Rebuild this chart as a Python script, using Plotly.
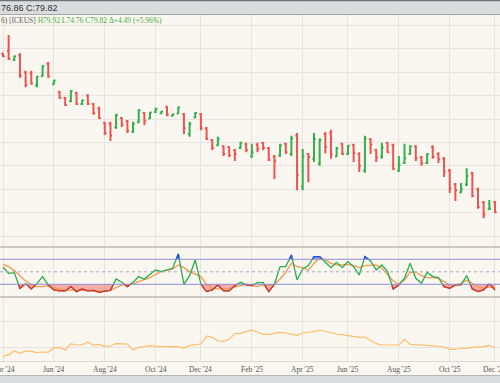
import plotly.graph_objects as go

# ---------------- data ----------------
bar_idx = list(range(88))  # weekly bars, Apr 2024 .. Dec 2025
tick_idx = [0, 9, 18, 27, 35, 44, 53, 61, 70, 79, 87]
tick_labels = ["Apr '24", "Jun '24", "Aug '24", "Oct '24", "Dec '24", "Feb '25",
               "Apr '25", "Jun '25", "Aug '25", "Oct '25", "Dec '25"]

opens = [109.0, 109.5, 107.6, 108.5, 105.0, 104.8, 102.2, 104.2, 106.8, 102.4,
         100.8, 99.5, 98.8, 100.5, 98.2, 100.0, 98.2, 97.3, 94.2, 94.0,
         93.2, 95.2, 94.5, 92.3, 94.3, 96.3, 95.1, 96.5, 96.2, 97.6,
         95.7, 96.2, 96.0, 91.8, 95.3, 96.0, 93.0, 90.5, 89.4, 89.2,
         89.0, 88.4, 88.8, 89.6, 87.0, 89.5, 89.9, 88.8, 87.0, 87.2,
         89.7, 87.5, 91.5, 80.5, 87.5, 86.5, 85.5, 91.8, 92.0, 87.0,
         89.7, 87.5, 89.5, 87.5, 84.0, 90.7, 88.4, 87.0, 89.9, 89.5,
         84.0, 85.6, 87.5, 89.2, 86.8, 85.6, 89.0, 87.6, 86.5, 84.0,
         81.0, 79.3, 81.0, 83.4, 80.0, 77.2, 75.7, 77.2]
highs = [109.1, 112.95, 108.5, 109.1, 105.3, 105.3, 104.2, 106.5, 107.2, 103.3,
         101.0, 99.7, 101.2, 100.8, 99.1, 100.3, 98.4, 97.6, 94.4, 94.4,
         96.1, 95.4, 94.8, 94.4, 97.1, 96.5, 96.5, 97.4, 96.7, 97.8,
         96.1, 97.6, 96.3, 94.4, 96.5, 96.3, 93.3, 90.7, 91.2, 89.4,
         89.2, 88.6, 90.1, 89.9, 89.7, 89.9, 90.1, 89.0, 87.3, 89.7,
         89.9, 91.4, 92.0, 88.6, 87.7, 92.0, 90.9, 92.2, 92.7, 89.0,
         89.9, 89.4, 89.7, 87.9, 91.4, 90.9, 88.6, 89.9, 90.1, 89.7,
         87.1, 89.7, 89.4, 89.4, 87.1, 87.7, 89.4, 87.9, 86.9, 84.3,
         81.3, 81.3, 84.5, 83.7, 80.3, 77.5, 77.7, 77.5]
lows = [108.25, 107.6, 107.4, 103.8, 101.8, 102.3, 101.8, 104.0, 103.8, 102.3,
        99.3, 97.8, 98.6, 98.0, 98.0, 98.0, 95.9, 95.0, 91.6, 90.3,
        92.9, 93.3, 92.0, 92.0, 94.1, 93.7, 95.0, 96.3, 96.1, 95.6,
        95.6, 96.1, 91.8, 91.2, 95.2, 92.6, 90.5, 88.4, 89.2, 87.1,
        86.9, 86.0, 88.6, 87.9, 86.7, 87.9, 88.4, 86.0, 82.2, 86.9,
        87.5, 87.1, 79.8, 79.8, 81.5, 85.8, 85.0, 87.7, 86.5, 86.9,
        87.3, 87.3, 85.8, 83.7, 83.5, 87.5, 85.8, 86.5, 87.7, 84.1,
        83.7, 85.4, 87.3, 86.0, 85.0, 85.4, 86.5, 85.6, 82.6, 79.2,
        77.5, 79.2, 80.7, 78.3, 75.8, 73.8, 75.6, 74.9]
closes = [108.4, 107.8, 108.4, 104.2, 102.2, 102.6, 104.0, 106.3, 104.0, 103.2,
          99.5, 98.0, 101.0, 98.2, 99.0, 98.2, 96.2, 95.2, 92.0, 91.5,
          95.8, 93.8, 92.5, 94.0, 96.9, 94.5, 96.4, 97.2, 96.6, 95.9,
          96.0, 97.5, 93.0, 94.0, 96.3, 93.0, 90.8, 88.8, 90.8, 87.5,
          87.2, 87.6, 89.9, 88.4, 87.9, 88.6, 88.8, 86.3, 86.0, 89.4,
          87.9, 90.9, 83.0, 87.0, 86.9, 90.7, 90.5, 89.0, 87.4, 88.8,
          87.5, 89.3, 87.8, 85.0, 90.8, 89.5, 86.8, 88.9, 87.9, 84.3,
          85.2, 86.6, 89.2, 86.6, 85.5, 87.5, 86.9, 86.4, 83.8, 80.2,
          79.8, 80.0, 82.8, 78.6, 76.2, 74.6, 75.9, 75.1]

stoch_k = [60.8, 46.4, 48, 10.4, 21.6, 8.8, 21.6, 38.4, 18.4, 6.4,
           4, 4, 14.4, 2.4, 8.8, 4, 5.6, 0.8, 4, 5.6,
           32.8, 24.8, 14.4, 24.8, 38.4, 32, 44, 54.4, 50.4, 55.2,
           58.4, 92.8, 20, 40.8, 78.4, 20, 2.4, 6.4, 18.4, 4,
           4, 16.8, 24.8, 18.4, 16.8, 24, 24, 2.4, 20, 62.4,
           62.4, 90.4, 30.4, 56.8, 64.8, 86.4, 86.4, 72.8, 60, 72.8,
           60, 74.4, 62.4, 42.4, 86.4, 76, 54.4, 66.4, 50.4, 8.8,
           18.4, 34.4, 70.4, 34.4, 22.4, 48.8, 38.4, 36, 14.4, 10.4,
           18.4, 18.4, 40.8, 8.8, 2.4, 6.4, 21, 6.4]
stoch_d = [68, 62.4, 52.8, 40.8, 28, 20, 14.4, 14.4, 16.8, 12,
           8, 5.6, 6.4, 5.6, 4.8, 5.6, 4, 3.2, 3.2, 5.6,
           12, 18.4, 18.4, 20.8, 26.4, 31.2, 36, 44, 50.4, 53.6,
           56.8, 66.4, 60, 50.4, 44, 38.4, 20, 10.4, 8.8, 8.8,
           10.4, 13.6, 16.8, 20, 16.8, 14.4, 18.4, 16.8, 20, 32.8,
           48.8, 70.4, 62.4, 60, 53.6, 70.4, 82.4, 78.4, 70.4, 66.4,
           66.4, 68, 64.8, 60, 64.8, 64.8, 66.4, 58.4, 44, 28,
           20, 30.4, 48.8, 48.8, 40.8, 36, 36, 34.4, 26.4, 18.4,
           18.4, 22.4, 29.6, 22.4, 14.4, 10.4, 13.6, 12]
open_interest = [51, 56, 67, 60, 67, 66, 62, 64, 63, 77, 77, 70, 89, 85, 85, 94, 84, 87, 81, 82,
                 89, 89, 88, 70, 78, 80, 83, 81, 80, 80, 80, 80, 75, 84, 86, 88, 112, 108, 97, 96,
                 102, 119, 120, 125, 130, 124, 117, 117, 119, 123, 121, 118, 114, 121, 123, 125, 130, 126, 120, 118,
                 116, 113, 110, 108, 109, 100, 89, 85, 84, 85, 85, 102, 87, 85, 85, 84, 82, 81, 79, 72,
                 72, 76, 75, 78, 78, 80, 84, 76]

price_grid = [70, 75, 80, 85, 90, 95, 100, 105, 110, 115]
stoch_levels = [20, 50, 80]

# ---------------- helpers ----------------
H = 383.0
def fy(px):
    return 1 - px / H

def densify(xs, ys, thr):
    dx, dy = [], []
    for i in range(len(xs)):
        dx.append(xs[i]); dy.append(ys[i])
        if i + 1 < len(xs):
            y0, y1 = ys[i], ys[i + 1]
            if (y0 - thr) * (y1 - thr) < 0:
                t = (thr - y0) / (y1 - y0)
                dx.append(xs[i] + t * (xs[i + 1] - xs[i])); dy.append(thr)
    return dx, dy

BG = '#faf7f0'
GRID = '#e7e4dd'
RED = '#ef5350'
GREEN = '#31b14c'

fig = go.Figure()

# price bars
fig.add_trace(go.Ohlc(x=bar_idx, open=opens, high=highs, low=lows, close=closes,
                      increasing=dict(line=dict(color=GREEN, width=2)),
                      decreasing=dict(line=dict(color=RED, width=2)),
                      tickwidth=0.3, xaxis='x', yaxis='y', showlegend=False))

# stochastic fills / lines
lo_lvl, mid_lvl, hi_lvl = stoch_levels
xs_lo, ys_lo = densify(bar_idx, stoch_k, lo_lvl)
xs_hi, ys_hi = densify(bar_idx, stoch_k, hi_lvl)
clip_lo = [min(v, lo_lvl) for v in ys_lo]
clip_hi = [max(v, hi_lvl) for v in ys_hi]
fig.add_trace(go.Scatter(x=xs_lo + [xs_lo[-1], xs_lo[0]], y=clip_lo + [lo_lvl, lo_lvl], fill='toself',
                         fillcolor='rgba(240,80,80,0.45)', line=dict(width=0), mode='lines',
                         xaxis='x2', yaxis='y2', showlegend=False, hoverinfo='skip'))
fig.add_trace(go.Scatter(x=xs_hi + [xs_hi[-1], xs_hi[0]], y=clip_hi + [hi_lvl, hi_lvl], fill='toself',
                         fillcolor='rgba(60,90,240,0.5)', line=dict(width=0), mode='lines',
                         xaxis='x2', yaxis='y2', showlegend=False, hoverinfo='skip'))

fig.add_trace(go.Scatter(x=bar_idx, y=stoch_d, mode='lines', line=dict(color='#f39a52', width=1.3),
                         xaxis='x2', yaxis='y2', showlegend=False))
fig.add_trace(go.Scatter(x=bar_idx, y=stoch_k, mode='lines', line=dict(color='#27ae47', width=1.3),
                         xaxis='x2', yaxis='y2', showlegend=False))
fig.add_trace(go.Scatter(x=xs_lo, y=[v if v <= lo_lvl else None for v in ys_lo], mode='lines',
                         line=dict(color='#f2262e', width=1.3), connectgaps=False,
                         xaxis='x2', yaxis='y2', showlegend=False))
fig.add_trace(go.Scatter(x=xs_hi, y=[v if v >= hi_lvl else None for v in ys_hi], mode='lines',
                         line=dict(color='#2448f2', width=1.3), connectgaps=False,
                         xaxis='x2', yaxis='y2', showlegend=False))

# bottom panel line
fig.add_trace(go.Scatter(x=bar_idx, y=open_interest, mode='lines', line=dict(color='#ffbd6b', width=1.2),
                         xaxis='x3', yaxis='y3', showlegend=False))

xr = [-0.53, 87.89]
xcommon = dict(range=xr, tickvals=tick_idx, showgrid=True, gridcolor=GRID, gridwidth=1,
               zeroline=False, fixedrange=True, showticklabels=False, automargin=False)

fig.update_layout(
    width=500, height=383,
    margin=dict(l=0, r=0, t=0, b=0),
    paper_bgcolor=BG, plot_bgcolor=BG,
    showlegend=False,
    xaxis=dict(**xcommon, anchor='y', rangeslider=dict(visible=False)),
    xaxis2=dict(**xcommon, anchor='y2', matches='x'),
    xaxis3=dict(**xcommon, anchor='y3', matches='x',
                showline=True, linecolor='#dedad3', linewidth=1),
    yaxis=dict(domain=[fy(247), fy(15)], range=[67.65, 117.22], tickvals=price_grid,
               showticklabels=False, showgrid=True, gridcolor=GRID, zeroline=False, fixedrange=True),
    yaxis2=dict(domain=[fy(297), fy(247)], range=[-10.5, 109.5], showticklabels=False,
                showgrid=False, zeroline=False, fixedrange=True),
    yaxis3=dict(domain=[fy(361), fy(297)], range=[37, 229], tickvals=[79, 157],
                showticklabels=False, showgrid=True, gridcolor=GRID, zeroline=False, fixedrange=True),
)

shapes = []
# stochastic reference lines
for lvl in (hi_lvl, lo_lvl):
    shapes.append(dict(type='line', xref='paper', x0=0, x1=1, yref='y2', y0=lvl, y1=lvl,
                       line=dict(color='#8d8ed8', width=1)))
shapes.append(dict(type='line', xref='paper', x0=0, x1=1, yref='y2', y0=mid_lvl, y1=mid_lvl,
                   line=dict(color='#a9a8c8', width=1, dash='dot')))
# panel separators
for py in (247, 297):
    shapes.append(dict(type='line', xref='paper', x0=0, x1=1, yref='paper', y0=fy(py), y1=fy(py),
                       line=dict(color='#cdc9c2', width=2)))
# header bar
shapes.append(dict(type='rect', xref='paper', x0=-0.01, x1=1.01, yref='paper', y0=fy(14.5), y1=1.01,
                   fillcolor='#d9dde0', line=dict(width=0), layer='above'))
shapes.append(dict(type='line', xref='paper', x0=0, x1=1, yref='paper', y0=fy(0.5), y1=fy(0.5),
                   line=dict(color='#6f7275', width=1.5)))
shapes.append(dict(type='line', xref='paper', x0=0, x1=1, yref='paper', y0=fy(14.5), y1=fy(14.5),
                   line=dict(color='#a4a6a8', width=1)))
# footer bar
shapes.append(dict(type='rect', xref='paper', x0=-0.01, x1=1.01, yref='paper', y0=-0.01, y1=fy(375.5),
                   fillcolor='#d9dde0', line=dict(width=0), layer='above'))
shapes.append(dict(type='line', xref='paper', x0=0, x1=1, yref='paper', y0=fy(375.5), y1=fy(375.5),
                   line=dict(color='#b4b6b8', width=1)))
fig.update_layout(shapes=shapes)

# x tick labels as annotations so that edge labels are simply cut by the page edge
for tv, tl in zip(tick_idx, tick_labels):
    fig.add_annotation(xref='x3', yref='paper', x=tv, y=fy(369), xanchor='center', yanchor='middle',
                       showarrow=False, text=tl,
                       font=dict(family='Liberation Serif', size=7.5, color='#555555'))

fig.add_annotation(xref='paper', yref='paper', x=0, y=fy(7.5), xanchor='left', yanchor='middle',
                   xshift=-1, showarrow=False, text='76.86 C:79.82',
                   font=dict(family='Liberation Sans', size=9, color='#333333'))
fig.add_annotation(xref='paper', yref='paper', x=0, y=fy(20), xanchor='left', yanchor='middle',
                   xshift=-1, showarrow=False,
                   text="<span style='color:#555555'>6) [ICEUS]</span> H79.92 L74.76 C79.82 \u0394+4.49 (+5.96%)",
                   font=dict(family='Liberation Serif', size=7.5, color='#45ad45'))

fig.write_html('out.html', config={'displayModeBar': False},
               post_script="document.body.style.margin='0';document.body.style.overflow='hidden';")
